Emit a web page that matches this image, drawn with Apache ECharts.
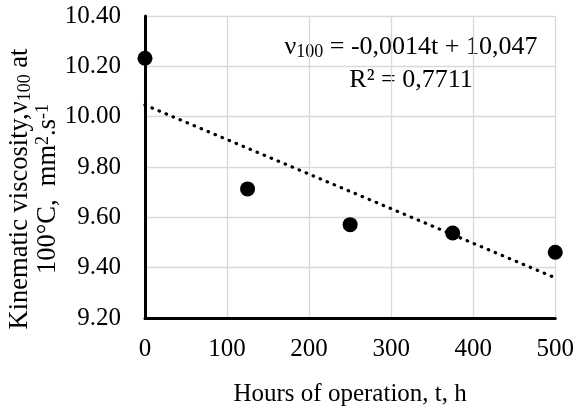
<!DOCTYPE html>
<html>
<head>
<meta charset="utf-8">
<script src="https://cdn.jsdelivr.net/npm/echarts@6/dist/echarts.min.js"></script>
<style>html,body{margin:0;padding:0;background:#fff}#c{width:577px;height:412px}</style>
</head>
<body>
<div id="c"></div>
<script>
const hours = [0, 125, 250, 375, 500];
const viscosity = [10.232, 9.713, 9.571, 9.538, 9.461];
const xTicks = [0, 100, 200, 300, 400, 500];
const yTicks = [9.20, 9.40, 9.60, 9.80, 10.00, 10.20, 10.40];
const equationText = '-0,0014t + 10,047';
const r2Text = '0,7711';

// least-squares trendline from data
const n = hours.length;
const mx = hours.reduce((a, b) => a + b, 0) / n;
const my = viscosity.reduce((a, b) => a + b, 0) / n;
let sxy = 0, sxx = 0;
for (let i = 0; i < n; i++) { sxy += (hours[i] - mx) * (viscosity[i] - my); sxx += (hours[i] - mx) ** 2; }
const slope = sxy / sxx;
const icpt = my - slope * mx;
const trend = [[xTicks[0], icpt], [xTicks[xTicks.length - 1], icpt + slope * xTicks[xTicks.length - 1]]];

const FONT = "'Liberation Serif', 'Times New Roman', serif";
const tickRich = { t: { fontFamily: FONT, fontSize: 25, color: '#000' } };
const chart = echarts.init(document.getElementById('c'), null, { renderer: 'canvas' });
chart.setOption({
  animation: false,
  backgroundColor: '#fff',
  textStyle: { fontFamily: FONT },
  grid: { left: 145, right: 19, top: 16, bottom: 89 },
  xAxis: {
    type: 'value', min: xTicks[0], max: xTicks[xTicks.length - 1], interval: 100,
    axisLine: { show: true, onZero: false, lineStyle: { color: '#000', width: 3 } },
    axisTick: { show: false },
    splitLine: { show: true, lineStyle: { color: '#d9d9d9', width: 1.3 } },
    axisLabel: { color: '#000', fontFamily: FONT, fontSize: 25, margin: 19,
      formatter: v => '{t|' + v + '}', rich: tickRich },
    name: 'Hours of operation, t, h', nameLocation: 'middle', nameGap: 64,
    nameTextStyle: { color: '#000', fontFamily: FONT, fontSize: 25 }
  },
  yAxis: {
    type: 'value', min: yTicks[0], max: yTicks[yTicks.length - 1], interval: 0.2,
    axisLine: { show: true, onZero: false, lineStyle: { color: '#000', width: 3 } },
    axisTick: { show: false },
    splitLine: { show: true, lineStyle: { color: '#d9d9d9', width: 1.3 } },
    axisLabel: { color: '#000', fontFamily: FONT, fontSize: 25, margin: 24,
      formatter: v => '{t|' + v.toFixed(2) + '}', rich: tickRich }
  },
  graphic: [
    {
      type: 'text', x: 34, y: 189, rotation: Math.PI / 2,
      style: {
        text: '{a|Kinematic viscosity,}{a|ν}{s|100}{a| at}\n{a|100°C,  mm}{p|2}{a|.s}{p|-1}',
        align: 'center', verticalAlign: 'middle', fill: '#000',
        rich: {
          a: { fontFamily: FONT, fontSize: 26.5, lineHeight: 28, fill: '#000' },
          s: { fontFamily: FONT, fontSize: 18, lineHeight: 16, verticalAlign: 'bottom', fill: '#000' },
          p: { fontFamily: FONT, fontSize: 18, lineHeight: 16, verticalAlign: 'top', fill: '#000' }
        }
      }
    },
    {
      type: 'text', x: 411, y: 47,
      style: {
        text: '{a|ν}{s|100}{a| = ' + equationText + '}',
        align: 'center', verticalAlign: 'middle', fill: '#000',
        rich: {
          a: { fontFamily: FONT, fontSize: 26, lineHeight: 28, fill: '#000' },
          s: { fontFamily: FONT, fontSize: 18, lineHeight: 16, verticalAlign: 'bottom', fill: '#000' }
        }
      }
    },
    {
      type: 'text', x: 411, y: 80,
      style: { text: 'R² = ' + r2Text, align: 'center', verticalAlign: 'middle', fill: '#000', fontFamily: FONT, fontSize: 26 }
    }
  ],
  series: [
    {
      type: 'line', data: trend, symbol: 'none', silent: true, z: 2,
      lineStyle: { color: '#000', width: 3.2, type: [0.5, 7.1], cap: 'round' }
    },
    {
      type: 'scatter', data: hours.map((h, i) => [h, viscosity[i]]), symbol: 'circle', symbolSize: 15, z: 3,
      itemStyle: { color: '#000', opacity: 1 }
    }
  ]
});
</script>
</body>
</html>
